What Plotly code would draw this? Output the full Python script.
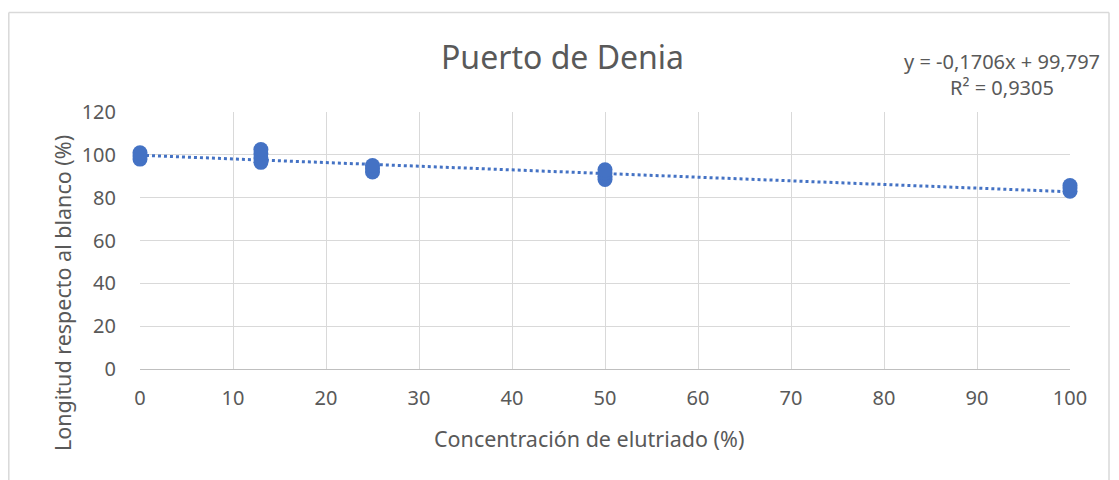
import plotly.graph_objects as go

# Data
conc_x = [0, 0, 0, 13, 13, 13, 13, 25, 25, 25, 50, 50, 50, 50, 100, 100, 100]
longitud_y = [98, 99.5, 101, 96.5, 98.5, 100.5, 102.5, 92, 93.5, 95,
              88.5, 90, 91.5, 93, 83, 84.5, 85.7]
trend_slope = -0.1706
trend_intercept = 99.797
trend_x = [0, 100]
x_ticks = [0, 10, 20, 30, 40, 50, 60, 70, 80, 90, 100]
y_ticks = [0, 20, 40, 60, 80, 100, 120]

blue = "#4472C4"
grey_txt = "#595959"
font_fam = "Noto Sans, Open Sans, sans-serif"

# plot area in reference pixels
PX0, PX1, PY0, PY1 = 140, 1070, 112, 369
PW, PH = PX1 - PX0, PY1 - PY0


def px(x):
    return (x - PX0) / PW


def py(y):
    return (PY1 - y) / PH


fig = go.Figure()
fig.add_trace(go.Scatter(
    x=trend_x, y=[trend_slope * v + trend_intercept for v in trend_x],
    mode="lines", line=dict(color=blue, width=3, dash="dot"),
    hoverinfo="skip", showlegend=False, cliponaxis=False))
fig.add_trace(go.Scatter(
    x=conc_x, y=longitud_y, mode="markers",
    marker=dict(color=blue, size=15, line=dict(width=0)),
    showlegend=False, cliponaxis=False))

border = dict(color="#d9d9d9", width=1.5)
OFF = 8  # page body offset
fig.update_layout(
    width=1119, height=480,
    margin=dict(l=PX0 - OFF, r=1119 - (PX1 - OFF), t=PY0 - OFF,
                b=480 - (PY1 - OFF)),
    paper_bgcolor="white", plot_bgcolor="white",
    font=dict(family=font_fam, color=grey_txt, size=20),
    xaxis=dict(range=[0, 100], tickvals=x_ticks, showgrid=True,
               gridcolor="#d9d9d9", gridwidth=1, zeroline=False,
               showline=True, linecolor="#bfbfbf", linewidth=1,
               ticks="", ticklabelstandoff=11,
               tickfont=dict(size=20, color=grey_txt)),
    yaxis=dict(range=[0, 120], tickvals=y_ticks, showgrid=True,
               gridcolor="#d9d9d9", gridwidth=1, zeroline=False,
               showline=False, ticks="", ticklabelstandoff=23,
               tickfont=dict(size=20, color=grey_txt)),
    shapes=[
        dict(type="line", xref="paper", yref="paper",
             x0=px(8.8), x1=px(1109), y0=py(12.5), y1=py(12.5), line=border),
        dict(type="line", xref="paper", yref="paper",
             x0=px(8.8), x1=px(8.8), y0=py(12.5), y1=py(490), line=border),
        dict(type="line", xref="paper", yref="paper",
             x0=px(1109), x1=px(1109), y0=py(12.5), y1=py(490), line=border),
    ],
    annotations=[
        dict(text="Puerto de Denia", xref="paper", yref="paper",
             x=px(562), y=py(56), showarrow=False,
             xanchor="center", yanchor="middle",
             font=dict(size=32, color=grey_txt)),
        dict(text="y = -0,1706x + 99,797<br>R² = 0,9305", xref="paper",
             yref="paper", x=px(1002), y=py(74.5),
             showarrow=False, xanchor="center", yanchor="middle",
             align="center", font=dict(size=20, color=grey_txt)),
        dict(text="Concentración de elutriado (%)", xref="paper",
             yref="paper", x=px(589), y=py(438),
             showarrow=False, xanchor="center", yanchor="middle",
             font=dict(size=21.5, color=grey_txt)),
        dict(text="Longitud respecto al blanco (%)", xref="paper",
             yref="paper", x=px(62), y=py(293),
             showarrow=False, xanchor="center", yanchor="middle",
             textangle=-90, font=dict(size=21.5, color=grey_txt)),
    ],
)

fig.write_html("out.html")
